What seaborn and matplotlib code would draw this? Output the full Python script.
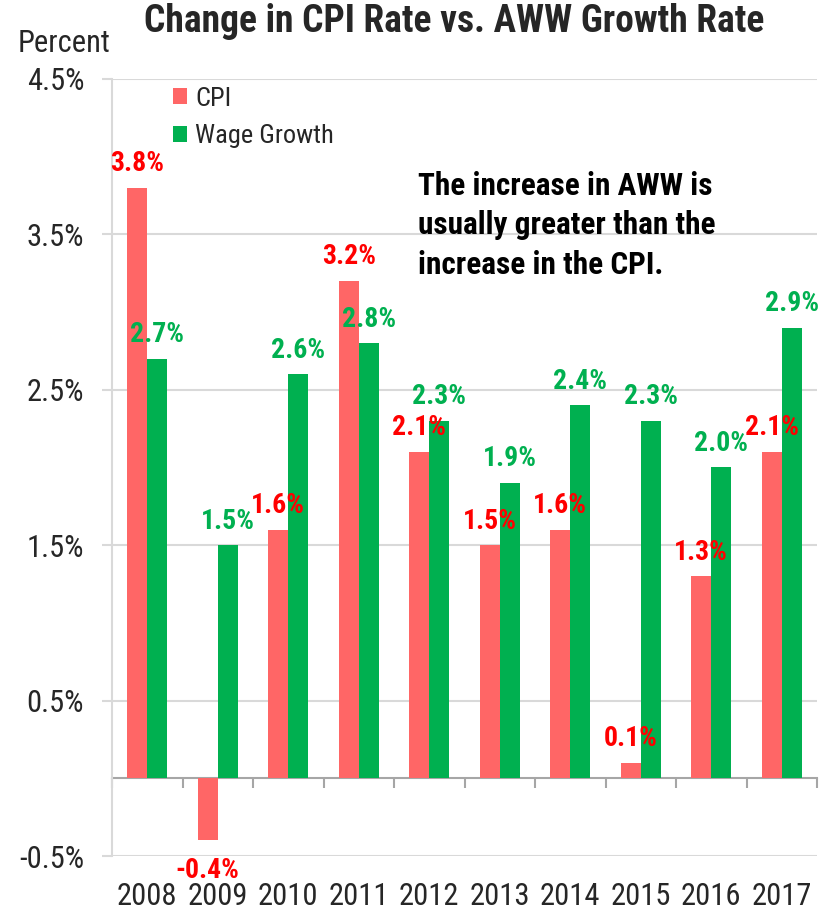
import numpy as np
import pandas as pd
import matplotlib
matplotlib.use("Agg")
import matplotlib.pyplot as plt
import seaborn as sns

# ---- data ----
years = ["2008", "2009", "2010", "2011", "2012", "2013", "2014", "2015", "2016", "2017"]
cpi = [3.8, -0.4, 1.6, 3.2, 2.1, 1.5, 1.6, 0.1, 1.3, 2.1]
wage = [2.7, 1.5, 2.6, 2.8, 2.3, 1.9, 2.4, 2.3, 2.0, 2.9]
series_names = ["CPI", "Wage Growth"]
y_ticks = [-0.5, 0.5, 1.5, 2.5, 3.5, 4.5]

bar_colors = {"CPI": "#FF6666", "Wage Growth": "#00B050"}
label_colors = {"CPI": "#FF0000", "Wage Growth": "#00B050"}

df = pd.DataFrame({
    "Year": years * 2,
    "Series": [series_names[0]] * len(years) + [series_names[1]] * len(years),
    "Value": cpi + wage,
})

sns.set_style("white")
plt.rcParams["font.family"] = ["Roboto Condensed", "Liberation Sans", "DejaVu Sans"]

fig = plt.figure(figsize=(8.27, 9.11), dpi=100)
ax = fig.add_axes([112 / 827, 1 - 856 / 911, 705 / 827, 777 / 911])

sns.barplot(data=df, x="Year", y="Value", hue="Series", order=years,
            hue_order=series_names, palette=bar_colors, width=0.57, gap=0,
            errorbar=None, ax=ax, saturation=1, linewidth=0, zorder=3)

ax.set_xlim(-0.5, len(years) - 0.5)
ax.set_ylim(y_ticks[0], y_ticks[-1])
ax.set_yticks(y_ticks)
ax.set_yticklabels([f"{t:.1f}%" for t in y_ticks])
ax.set_xlabel("")
ax.set_ylabel("")

grid_c = "#D9D9D9"
ax.yaxis.grid(True, color=grid_c, lw=1.5, zorder=0)
ax.xaxis.grid(False)
for s in ["top", "right", "bottom"]:
    ax.spines[s].set_visible(False)
ax.spines["left"].set_color(grid_c)
ax.spines["left"].set_linewidth(1.5)
ax.tick_params(axis="y", direction="out", length=7, width=1.5, color=grid_c,
               labelsize=22, pad=13, left=True)
ax.tick_params(axis="x", length=0, labelsize=22, pad=19)

# zero line with category separators
zero_loc = (0 - y_ticks[0]) / (y_ticks[-1] - y_ticks[0])
sec = ax.secondary_xaxis(zero_loc)
sec.set_xticks(np.arange(-0.5, len(years), 1.0))
sec.set_xticklabels([])
sec.tick_params(direction="out", length=7, width=1.5, color="#A6A6A6")
sec.spines["bottom"].set_color("#A6A6A6")
sec.spines["bottom"].set_linewidth(1.5)

# value labels
for cont, name in zip(ax.containers, series_names):
    for bar in cont:
        h = bar.get_height()
        xc = bar.get_x() + bar.get_width() / 2
        if h >= 0:
            ax.annotate(f"{h:.1f}%", (xc, h), xytext=(0, 12), textcoords="offset points",
                        ha="center", va="baseline", fontsize=20, fontweight="bold",
                        color=label_colors[name], zorder=5)
        else:
            ax.annotate(f"{h:.1f}%", (xc, h), xytext=(0, -12), textcoords="offset points",
                        ha="center", va="top", fontsize=20, fontweight="bold",
                        color=label_colors[name], zorder=5)

handles, labels = ax.get_legend_handles_labels()
ax.legend(handles, labels, loc="upper left", bbox_to_anchor=(0.0865, 0.99),
          frameon=False, fontsize=19, handlelength=0.55, handleheight=0.55,
          handletextpad=0.3, labelspacing=0.5, borderpad=0, borderaxespad=0)

ax.text(0.434, 0.882, "The increase in AWW is\nusually greater than the\nincrease in the CPI.",
        transform=ax.transAxes, ha="left", va="top", fontsize=22.5, fontweight="bold",
        color="black", linespacing=1.4)

fig.text(454 / 827, 1 - 22 / 911, "Change in CPI Rate vs. AWW Growth Rate",
         ha="center", va="center", fontsize=27, fontweight="bold")
fig.text(18 / 827, 1 - 43 / 911, "Percent", ha="left", va="center", fontsize=22)

fig.savefig("out.png", dpi=100)
